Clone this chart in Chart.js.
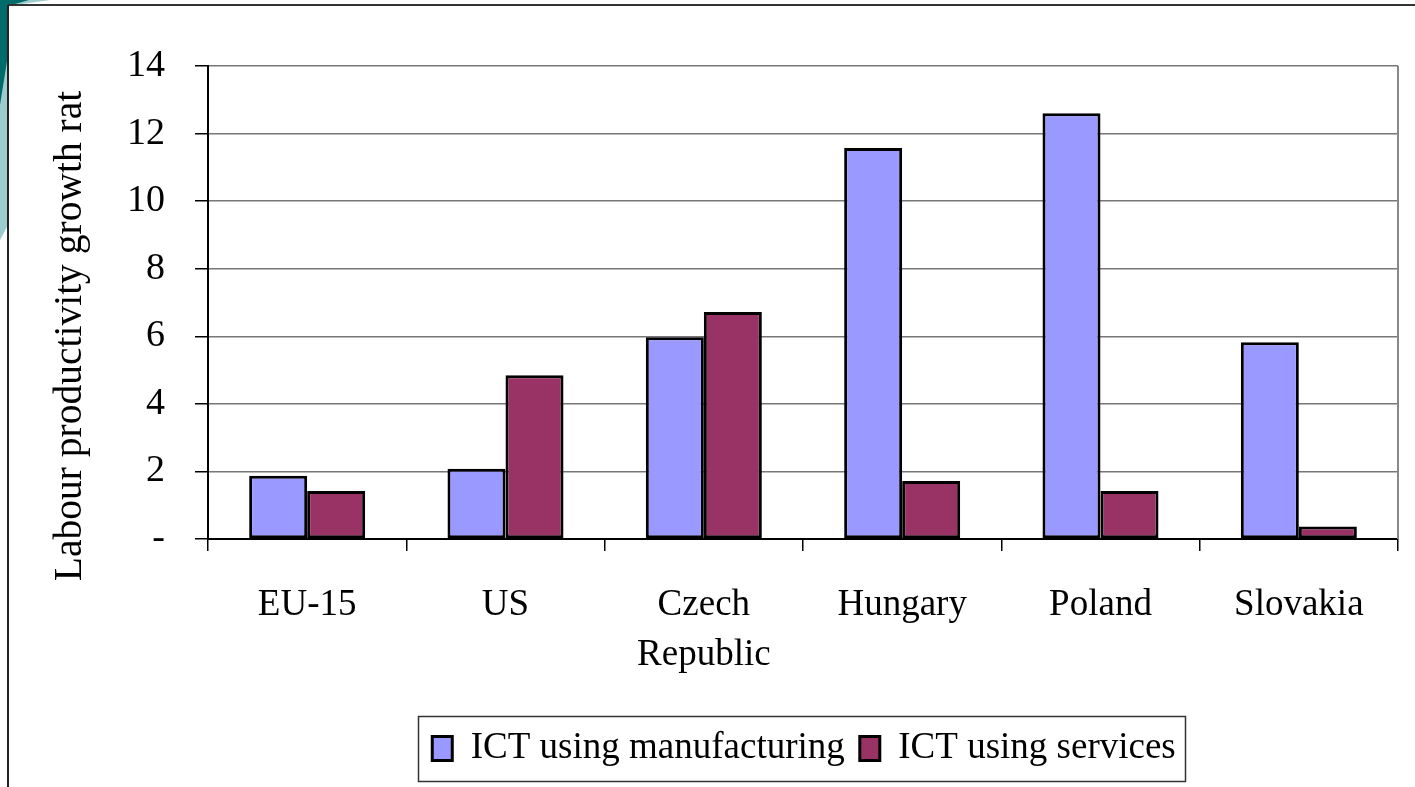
<!DOCTYPE html>
<html><head><meta charset="utf-8">
<script src="https://cdn.jsdelivr.net/npm/chart.js@4"></script>
<style>
html,body{margin:0;padding:0;background:#fff;}
#wrap{position:relative;width:1415px;height:787px;overflow:hidden;background:#fff;}
#c{position:absolute;left:0;top:0;}
#deco{position:absolute;left:0;top:0;pointer-events:none;}
</style></head><body>
<div id="wrap">
<canvas id="c" width="1415" height="787"></canvas>
<svg id="deco" width="1415" height="787">
  <polygon points="0,0 50,0 8,6 8,225 0,240" fill="#9ccccc"/>
  <polygon points="0,0 29,0 8,6 8,55 0,105" fill="#006b6b"/>
  <line x1="8" y1="5" x2="1415" y2="5" stroke="#333" stroke-width="2"/>
  <line x1="8" y1="5" x2="8" y2="787" stroke="#222" stroke-width="2"/>
</svg>
</div>
<script>
const categories = ['EU-15', 'US', ['Czech', 'Republic'], 'Hungary', 'Poland', 'Slovakia'];
const seriesNames = ['ICT using manufacturing', 'ICT using services'];
const manufacturing = [1.87, 2.08, 5.97, 11.57, 12.6, 5.82];
const services = [1.42, 4.85, 6.72, 1.72, 1.42, 0.37];
const yTicks = [0, 2, 4, 6, 8, 10, 12, 14];
const yTitle = 'Labour productivity growth rat';

const FONT = "'Liberation Serif', 'Times New Roman', serif";

const framePlugin = {
  id: 'framePlugin',
  afterLayout(chart) {
    const lg = chart.legend;
    if (!lg) return;
    const dx = 804 - (lg.left + lg.right) / 2;
    lg.left += dx; lg.right += dx;
    const dy = 746 - (lg.top + lg.bottom) / 2;
    lg.top += dy; lg.bottom += dy;
  },
  afterDraw(chart) {
    const ctx = chart.ctx;
    const a = chart.chartArea;
    ctx.save();
    // right border of plot area
    ctx.strokeStyle = '#888';
    ctx.lineWidth = 2;
    ctx.beginPath();
    ctx.moveTo(a.right, a.top);
    ctx.lineTo(a.right, a.bottom);
    ctx.stroke();
    // legend frame
    const hb = chart.legend.legendHitBoxes;
    if (hb && hb.length) {
      let minX = Infinity, maxX = -Infinity, minY = Infinity, maxY = -Infinity;
      hb.forEach(h => {
        minX = Math.min(minX, h.left); maxX = Math.max(maxX, h.left + h.width);
        minY = Math.min(minY, h.top); maxY = Math.max(maxY, h.top + h.height);
      });
      ctx.strokeStyle = '#333';
      ctx.lineWidth = 1.5;
      ctx.strokeRect(Math.round(minX - 14) + 0.5, Math.round(minY - 14) + 0.5,
        Math.round(maxX - minX + 24), Math.round(maxY - minY + 28));
    }
    // y-axis title
    ctx.fillStyle = '#000';
    ctx.font = "39.5px " + FONT;
    ctx.textAlign = 'center';
    ctx.textBaseline = 'alphabetic';
    ctx.translate(81, 336);
    ctx.rotate(-Math.PI / 2);
    ctx.fillText(yTitle, 0, 0);
    ctx.restore();
  }
};

new Chart(document.getElementById('c'), {
  type: 'bar',
  data: {
    labels: categories,
    datasets: [
      { label: seriesNames[0], data: manufacturing, backgroundColor: '#9999ff', borderColor: '#000', borderWidth: 3, borderSkipped: false },
      { label: seriesNames[1], data: services, backgroundColor: '#993366', borderColor: '#000', borderWidth: 3, borderSkipped: false }
    ]
  },
  options: {
    responsive: false,
    animation: false,
    devicePixelRatio: 1,
    layout: { padding: { top: 66, right: 17, left: 0, bottom: 0 } },
    datasets: { bar: { categoryPercentage: 0.585, barPercentage: 1.0 } },
    plugins: {
      title: { display: false },
      tooltip: { enabled: false },
      legend: {
        display: true,
        position: 'bottom',
        labels: {
          color: '#000',
          font: { family: FONT, size: 37 },
          boxWidth: 20,
          boxHeight: 24,
          padding: 15
        }
      }
    },
    scales: {
      x: {
        offset: true,
        grid: { display: true, drawOnChartArea: false, drawTicks: true, tickLength: 12, color: '#000', lineWidth: 1.5, offset: true },
        border: { display: true, color: '#000', width: 2 },
        ticks: { color: '#000', font: { family: FONT, size: 37, lineHeight: 1.35 }, padding: 29, maxRotation: 0, autoSkip: false },
        afterFit(scale) {
          const lh = scale.chart.legend ? scale.chart.legend.height : 0;
          scale.height = 787 - 539 - lh;
        }
      },
      y: {
        min: yTicks[0],
        max: yTicks[yTicks.length - 1],
        afterBuildTicks(scale) { scale.ticks = yTicks.map(v => ({ value: v })); },
        grid: { color: '#777', lineWidth: 1.5, drawTicks: true, tickLength: 13, tickColor: '#000', tickWidth: 1.5 },
        border: { display: true, color: '#000', width: 2 },
        ticks: {
          color: '#000',
          font: { family: FONT, size: 38 },
          padding: 30,
          callback: (v) => v === 0 ? '-' : String(v)
        },
        afterFit(scale) { scale.width = 208; }
      }
    }
  },
  plugins: [framePlugin]
});
</script>
</body></html>
